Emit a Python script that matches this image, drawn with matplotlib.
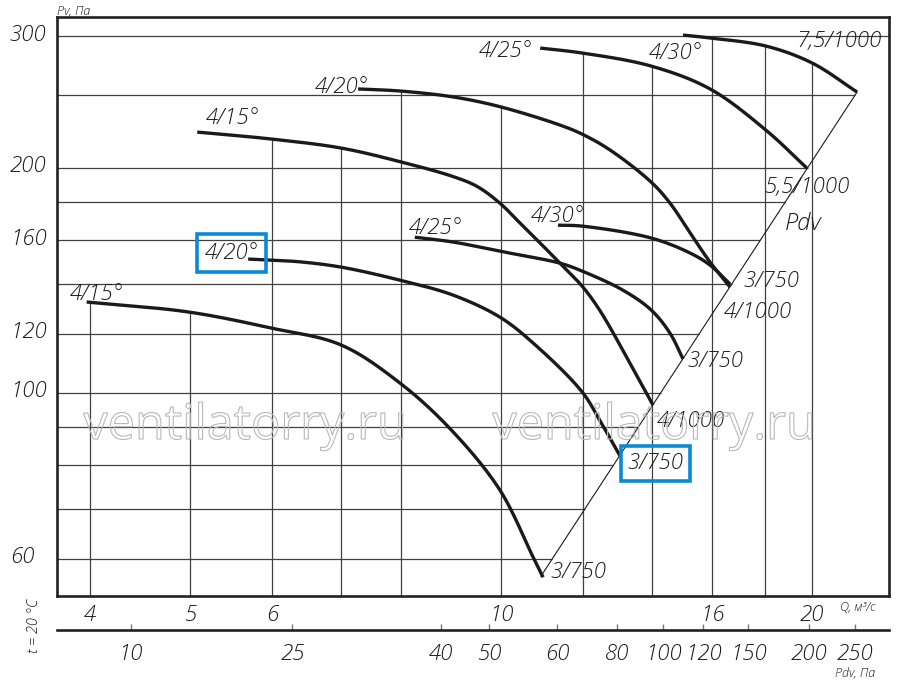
import numpy as np
import matplotlib
matplotlib.use("Agg")
import matplotlib.pyplot as plt
import matplotlib.patheffects as pe
from matplotlib.ticker import NullLocator
from matplotlib.transforms import ScaledTranslation

plt.rcParams["font.family"] = ["Open Sans", "DejaVu Sans"]
plt.rcParams["font.style"] = "italic"
plt.rcParams["font.weight"] = "light"

# ---------------- data ----------------
q_tick_values = [4, 5, 6, 10, 16, 20]
q_grid_values = [4, 5, 6, 7, 8, 10, 12, 14, 16, 18, 20]
p_tick_values = [60, 100, 120, 160, 200, 300]
p_grid_values = [60, 70, 80, 90, 100, 120, 140, 160, 180, 200, 250, 300]
pdv_tick_labels = [10, 25, 40, 50, 60, 80, 100, 120, 150, 200, 250]
pdv_tick_at_q = [4.38, 6.28, 8.75, 9.74, 11.33, 12.95, 14.35, 15.69, 17.35, 19.87, 22.01]

# lower family (3/750)
q_15_low = [3.97, 4.98, 5.99, 7.00, 7.98, 8.93, 9.97, 10.74, 10.98]
p_15_low = [132.3, 128.3, 122.1, 115.9, 103.1, 89.5, 74.2, 60.3, 56.7]
q_20_low = [5.69, 5.99, 6.39, 7.00, 7.98, 8.99, 9.97, 10.74, 11.98, 12.47, 13.04]
p_20_low = [151.0, 150.5, 149.7, 147.3, 141.5, 135.1, 126.3, 116.6, 100.3, 91.7, 82.3]
q_25_low = [8.25, 8.99, 9.97, 11.40, 11.98, 13.12, 13.97, 14.57, 15.00]
p_25_low = [161.5, 159.1, 154.7, 149.1, 145.5, 137.2, 129.1, 120.2, 111.0]
q_30_low = [11.35, 11.98, 13.97, 15.24, 15.93, 16.66]
p_30_low = [167.6, 167.1, 161.1, 153.8, 148.2, 139.8]
# upper family
q_15_up = [5.08, 5.99, 7.00, 7.98, 8.99, 9.48, 9.97, 10.43, 10.91, 11.40, 11.98, 12.47, 13.39, 14.03]
p_15_up = [223.2, 218.5, 212.5, 203.8, 194.6, 188.8, 179.4, 168.7, 158.6, 149.1, 138.9, 128.7, 108.3, 96.3]
q_20_up = [7.27, 7.98, 8.99, 9.97, 11.40, 11.98, 12.75, 13.97, 14.57, 15.24, 15.93, 16.66]
p_20_up = [254.9, 253.3, 248.7, 241.4, 228.1, 221.8, 211.2, 191.4, 179.4, 163.6, 149.6, 138.5]
q_25_up = [10.91, 11.98, 13.97, 15.93, 18.04, 19.77]
p_25_up = [289.1, 284.7, 273.5, 254.9, 224.6, 199.8]
q_30_up = [15.00, 15.93, 18.04, 20.00, 22.11]
p_30_up = [300.9, 298.2, 290.9, 276.1, 252.5]

# dynamic-pressure line
pdv_line_q = [10.93, 22.11]
pdv_line_p = [56.9, 252.5]

start_labels = ["4/15°", "4/20°", "4/25°", "4/30°", "4/15°", "4/20°", "4/25°", "4/30°"]
end_labels = ["3/750", "3/750", "3/750", "3/750", "4/1000", "4/1000", "5,5/1000", "7,5/1000"]

curves = [(q_15_low, p_15_low), (q_20_low, p_20_low), (q_25_low, p_25_low), (q_30_low, p_30_low),
          (q_15_up, p_15_up), (q_20_up, p_20_up), (q_25_up, p_25_up), (q_30_up, p_30_up)]

# label placement (offset pixels from curve start / end), alignment
start_pos = [(10, 2, "center"), (10, 0, "right"), (21, 3, "center"), (-1, 3, "center"),
             (35, 8, "center"), (10, -4, "right"), (-8, -9, "right"), (-8, -24, "center")]
end_pos = [(7, -1, "left"), (7, -13, "left"), (4, -8, "left"), (13, -3, "left"),
           (4, -22, "left"), (-6, -31, "left"), (0, -25, "center"), (25, 45, "right")]
boxed_start = [1]
boxed_end = [1]

XS = 1033.0 / 748.0  # px per decade ratio (x vs y) for isotropic smoothing


def smooth(q, p, n=24, alpha=0.5):
    pts = np.column_stack([np.log10(np.asarray(q, float)) * XS, np.log10(np.asarray(p, float))])
    ext = np.vstack([2 * pts[0] - pts[1], pts, 2 * pts[-1] - pts[-2]])
    out = []
    for i in range(1, len(ext) - 2):
        p0, p1, p2, p3 = ext[i - 1], ext[i], ext[i + 1], ext[i + 2]
        t0 = 0.0
        t1 = t0 + np.linalg.norm(p1 - p0) ** alpha
        t2 = t1 + np.linalg.norm(p2 - p1) ** alpha
        t3 = t2 + np.linalg.norm(p3 - p2) ** alpha
        t = np.linspace(t1, t2, n, endpoint=False)[:, None]
        a1 = (t1 - t) / (t1 - t0) * p0 + (t - t0) / (t1 - t0) * p1
        a2 = (t2 - t) / (t2 - t1) * p1 + (t - t1) / (t2 - t1) * p2
        a3 = (t3 - t) / (t3 - t2) * p2 + (t - t2) / (t3 - t2) * p3
        b1 = (t2 - t) / (t2 - t0) * a1 + (t - t0) / (t2 - t0) * a2
        b2 = (t3 - t) / (t3 - t1) * a2 + (t - t1) / (t3 - t1) * a3
        c = (t2 - t) / (t2 - t1) * b1 + (t - t1) / (t2 - t1) * b2
        out.append(c)
    out.append(ext[-2][None, :])
    out = np.vstack(out)
    return 10 ** (out[:, 0] / XS), 10 ** out[:, 1]


W, H = 900, 684
fig = plt.figure(figsize=(W / 100, H / 100), dpi=100)
L, B, R, T = 57, 596, 889, 17
ax = fig.add_axes([L / W, 1 - B / H, (R - L) / W, (B - T) / H])
ax.set_xscale("log")
ax.set_yscale("log")
xlim = (3.716, 23.74)
ylim = (53.52, 318.1)
ax.set_xlim(*xlim)
ax.set_ylim(*ylim)

smoothed = [smooth(q, p) for q, p in curves]

# vertical grid lines: from bottom up to the highest curve
grid_col = "#404040"
for qg in q_grid_values:
    vals = []
    for sq, sp in smoothed:
        order = np.argsort(sq)
        vals.append(np.interp(qg, sq[order], sp[order], left=np.nan, right=np.nan))
    top = np.nanmax(vals)
    ax.vlines(qg, ylim[0], top, color=grid_col, lw=0.9, zorder=1)

# horizontal grid lines: from left edge to Pdv line
lq = np.log10(pdv_line_q)
lp = np.log10(pdv_line_p)
for pg in p_grid_values:
    if lp[0] <= np.log10(pg) <= lp[1]:
        xe = 10 ** np.interp(np.log10(pg), lp, lq)
    else:
        xe = xlim[1]
    ax.hlines(pg, xlim[0], xe, color=grid_col, lw=0.9, zorder=1)

# Pdv line
ax.plot(pdv_line_q, pdv_line_p, color="#1a1a1a", lw=0.8, zorder=2)

# curves
for (sq, sp) in smoothed:
    ax.plot(sq, sp, color="#1a1a1a", lw=2.4, solid_capstyle="butt", zorder=3)

blue = "#0a8ad6"
fs_lab = 16
for i, (q, p) in enumerate(curves):
    dx, dy, ha = start_pos[i]
    kw = {}
    if i in boxed_start:
        kw["bbox"] = dict(boxstyle="square,pad=0.35", fc="none", ec=blue, lw=2.6)
    ax.annotate(start_labels[i], xy=(q[0], p[0]), xytext=(dx, dy), textcoords="offset pixels",
                ha=ha, va="baseline", fontsize=fs_lab, color="#1a1a1a", zorder=4, **kw)
    dx, dy, ha = end_pos[i]
    kw = {}
    if i in boxed_end:
        kw["bbox"] = dict(boxstyle="square,pad=0.3", fc="none", ec=blue, lw=2.6)
    ax.annotate(end_labels[i], xy=(q[-1], p[-1]), xytext=(dx, dy), textcoords="offset pixels",
                ha=ha, va="baseline", fontsize=fs_lab, color="#1a1a1a", zorder=4, **kw)

# axes styling
for s in ax.spines.values():
    s.set_linewidth(1.9)
    s.set_color("#222222")
ax.xaxis.set_minor_locator(NullLocator())
ax.yaxis.set_minor_locator(NullLocator())
ax.set_xticks(q_tick_values, [str(v) for v in q_tick_values])
ax.set_yticks(p_tick_values, [str(v) for v in p_tick_values])
ax.tick_params(axis="x", length=0, pad=6, labelsize=16, labelcolor="#1a1a1a")
ax.tick_params(axis="y", length=0, pad=34, labelsize=16, labelcolor="#1a1a1a")
for lab in ax.get_yticklabels():
    lab.set_horizontalalignment("left")
    lab.set_transform(lab.get_transform() + ScaledTranslation(0, 4 / 100, fig.dpi_scale_trans))

# Pdv scale below
ax2 = fig.add_axes([L / W, 1 - 630 / H, (R - L) / W, 0.0001])
ax2.set_xscale("log")
ax2.set_xlim(*xlim)
ax2.set_facecolor("none")
ax2.set_yticks([])
for k in ("top", "left", "right"):
    ax2.spines[k].set_visible(False)
ax2.spines["bottom"].set_linewidth(1.9)
ax2.spines["bottom"].set_color("#222222")
ax2.xaxis.set_minor_locator(NullLocator())
ax2.set_xticks(pdv_tick_at_q, [str(v) for v in pdv_tick_labels])
ax2.tick_params(axis="x", direction="in", length=4, width=1, color="#777777",
                pad=9, labelsize=16, labelcolor="#1a1a1a")

# captions
fig.text(57 / W, 1 - 15 / H, "Pv, Па", fontsize=9, ha="left", va="baseline", color="#1a1a1a")
fig.text(840 / W, 1 - 611 / H, "Q, м³/с", fontsize=9, ha="left", va="baseline", color="#1a1a1a")
fig.text(835 / W, 1 - 677 / H, "Pdv, Па", fontsize=9, ha="left", va="baseline", color="#1a1a1a")
fig.text(34 / W, 1 - 626 / H, "t = 20 °C", fontsize=10.5, rotation=90, ha="center", va="center",
         color="#1a1a1a")
fig.text(785 / W, 1 - 230 / H, "Pdv", fontsize=17, ha="left", va="baseline", color="#1a1a1a")

# watermark
for cx in (245, 654):
    fig.text(cx / W, 1 - 439 / H, "ventilatorry.ru", fontsize=35, ha="center", va="baseline",
             family=["Open Sans", "DejaVu Sans"], style="normal", weight="normal",
             color=(1, 1, 1, 0),
             path_effects=[pe.Stroke(linewidth=0.8, foreground="#b8b8b8")], zorder=5)

fig.savefig("out.png", dpi=100)
